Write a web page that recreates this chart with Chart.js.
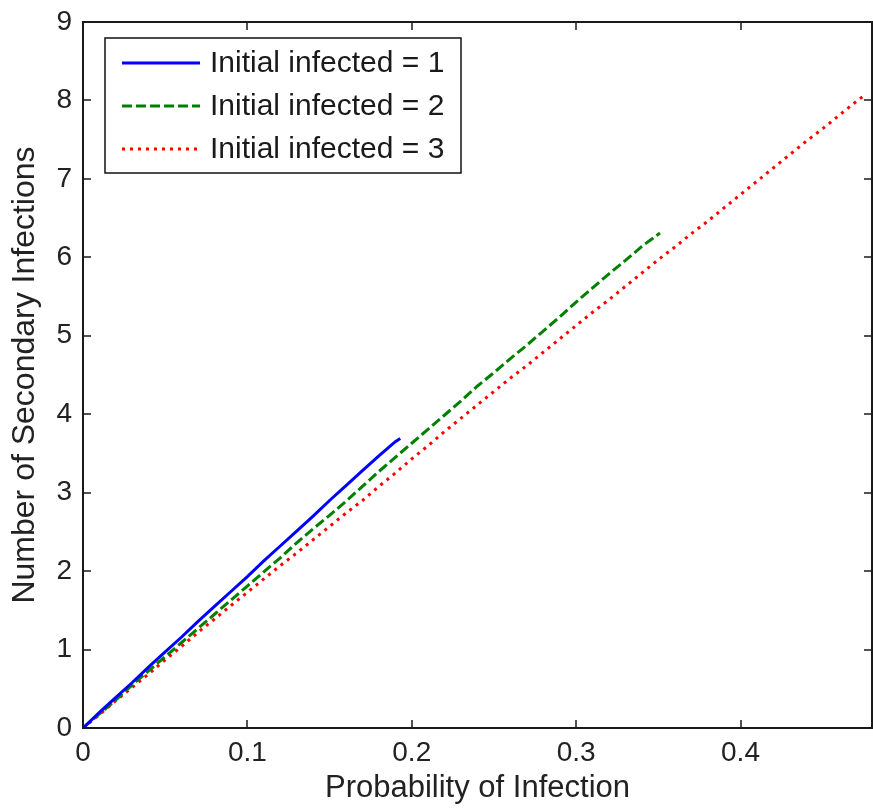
<!DOCTYPE html>
<html>
<head>
<meta charset="utf-8">
<script src="https://cdn.jsdelivr.net/npm/chart.js@4.4.1/dist/chart.umd.min.js"></script>
<style>
  html, body { margin: 0; padding: 0; background: #fff; }
  #wrap { width: 873px; height: 810px; }
</style>
</head>
<body>
<div id="wrap"><canvas id="chart" width="873" height="810"></canvas></div>
<script>
// values: probability of infection vs. number of secondary infections
const xOne = [0, 0.01, 0.02, 0.03, 0.04, 0.05, 0.06, 0.07, 0.08, 0.09, 0.10, 0.11, 0.12, 0.13, 0.14, 0.15, 0.16, 0.17, 0.18, 0.19, 0.193];
const yOne = [0, 0.20, 0.39, 0.58, 0.78, 0.97, 1.16, 1.36, 1.55, 1.74, 1.93, 2.13, 2.32, 2.51, 2.70, 2.90, 3.09, 3.28, 3.47, 3.65, 3.69];

const xTwo = [0, 0.01, 0.02, 0.03, 0.04, 0.05, 0.06, 0.07, 0.08, 0.09, 0.10, 0.11, 0.12, 0.13, 0.14, 0.15, 0.16, 0.17,
              0.18, 0.19, 0.20, 0.21, 0.22, 0.23, 0.24, 0.25, 0.26, 0.27, 0.28, 0.29, 0.30, 0.31, 0.32, 0.33, 0.34, 0.351];
const yTwo = [0, 0.18, 0.36, 0.55, 0.73, 0.91, 1.09, 1.27, 1.45, 1.63, 1.81, 1.99, 2.17, 2.36, 2.54, 2.71, 2.89, 3.08,
              3.27, 3.45, 3.63, 3.81, 3.99, 4.17, 4.36, 4.53, 4.71, 4.88, 5.06, 5.24, 5.43, 5.61, 5.79, 5.96, 6.14, 6.31];

const xThree = [0, 0.01, 0.02, 0.03, 0.04, 0.05, 0.06, 0.07, 0.08, 0.09, 0.10, 0.11, 0.12, 0.13, 0.14, 0.15, 0.16, 0.17,
                0.18, 0.19, 0.20, 0.21, 0.22, 0.23, 0.24, 0.25, 0.26, 0.27, 0.28, 0.29, 0.30, 0.31, 0.32, 0.33, 0.34, 0.35,
                0.36, 0.37, 0.38, 0.39, 0.40, 0.41, 0.42, 0.43, 0.44, 0.45, 0.46, 0.47, 0.475];
const yThree = [0, 0.17, 0.35, 0.52, 0.69, 0.87, 1.04, 1.22, 1.39, 1.56, 1.73, 1.90, 2.07, 2.23, 2.40, 2.57, 2.74, 2.90,
                3.08, 3.25, 3.43, 3.60, 3.78, 3.95, 4.12, 4.29, 4.46, 4.62, 4.79, 4.96, 5.13, 5.30, 5.46, 5.63, 5.80, 5.97,
                6.13, 6.30, 6.46, 6.63, 6.80, 6.97, 7.14, 7.31, 7.48, 7.64, 7.81, 7.98, 8.06];

const seriesLabels = ['Initial infected = 1', 'Initial infected = 2', 'Initial infected = 3'];
const xTicks = [0, 0.1, 0.2, 0.3, 0.4];
const yTicks = [0, 1, 2, 3, 4, 5, 6, 7, 8, 9];

const FONT = "'Liberation Sans', Arial, sans-serif";
const pts = (xs, ys) => xs.map((v, i) => ({ x: v, y: ys[i] }));

// matlab style box: full frame, inward ticks on all four sides, legend in the corner
const matlabFrame = {
  id: 'matlabFrame',
  afterDatasetsDraw(chart) {
    const { ctx, chartArea: a, scales: { x, y } } = chart;
    ctx.save();
    ctx.strokeStyle = '#1a1a1a';
    ctx.lineWidth = 2;
    ctx.strokeRect(a.left, a.top, a.right - a.left, a.bottom - a.top);

    ctx.lineWidth = 1.5;
    ctx.beginPath();
    xTicks.forEach(v => {
      const px = Math.round(x.getPixelForValue(v));
      ctx.moveTo(px, a.bottom); ctx.lineTo(px, a.bottom - 8);
      ctx.moveTo(px, a.top); ctx.lineTo(px, a.top + 8);
    });
    yTicks.forEach(v => {
      const py = Math.round(y.getPixelForValue(v));
      ctx.moveTo(a.left, py); ctx.lineTo(a.left + 8, py);
      ctx.moveTo(a.right, py); ctx.lineTo(a.right - 8, py);
    });
    ctx.stroke();

    // legend box
    const bx = a.left + 22, by = a.top + 16, bw = 356, bh = 135;
    ctx.fillStyle = '#fff';
    ctx.fillRect(bx, by, bw, bh);
    ctx.lineWidth = 1.5;
    ctx.strokeStyle = '#111';
    ctx.strokeRect(bx, by, bw, bh);
    ctx.font = '30px ' + FONT;
    ctx.textBaseline = 'middle';
    ctx.textAlign = 'left';
    chart.data.datasets.forEach((ds, i) => {
      const ry = by + 25 + i * 43;
      ctx.beginPath();
      ctx.strokeStyle = ds.borderColor;
      ctx.lineWidth = ds.borderWidth;
      ctx.setLineDash(ds.borderDash || []);
      ctx.moveTo(bx + 17, ry);
      ctx.lineTo(bx + 95, ry);
      ctx.stroke();
      ctx.setLineDash([]);
      ctx.fillStyle = '#1a1a1a';
      ctx.fillText(ds.label, bx + 105, ry + 1);
    });
    ctx.restore();
  }
};

new Chart(document.getElementById('chart'), {
  type: 'line',
  data: {
    datasets: [
      { label: seriesLabels[0], data: pts(xOne, yOne), borderColor: '#0000ff', borderWidth: 3 },
      { label: seriesLabels[1], data: pts(xTwo, yTwo), borderColor: '#008000', borderWidth: 3, borderDash: [10, 4] },
      { label: seriesLabels[2], data: pts(xThree, yThree), borderColor: '#ff0000', borderWidth: 3, borderDash: [3, 5] }
    ]
  },
  options: {
    responsive: false,
    animation: false,
    devicePixelRatio: 1,
    layout: { padding: { top: 22, right: 1, bottom: 0, left: 0 } },
    elements: { point: { radius: 0 }, line: { tension: 0, fill: false } },
    plugins: { legend: { display: false }, tooltip: { enabled: false } },
    scales: {
      x: {
        type: 'linear',
        min: 0,
        max: 0.48,
        afterBuildTicks: s => { s.ticks = xTicks.map(v => ({ value: v })); },
        afterFit: s => { s.height = 82; s.paddingLeft = 0; s.paddingRight = 0; },
        grid: { display: false, drawTicks: false },
        border: { display: false },
        ticks: { padding: 8, color: '#222', font: { family: FONT, size: 28 }, callback: v => String(v) },
        title: { display: true, text: 'Probability of Infection', color: '#222', font: { family: FONT, size: 31 }, padding: { top: 0, bottom: 3 } }
      },
      y: {
        type: 'linear',
        min: 0,
        max: 9,
        afterBuildTicks: s => { s.ticks = yTicks.map(v => ({ value: v })); },
        afterFit: s => { s.width = 83; s.paddingTop = 0; s.paddingBottom = 0; },
        grid: { display: false, drawTicks: false },
        border: { display: false },
        ticks: { padding: 11, color: '#222', font: { family: FONT, size: 28 }, callback: v => String(v) },
        title: { display: true, text: 'Number of Secondary Infections', color: '#222', font: { family: FONT, size: 32 }, padding: { top: 6, bottom: 0 } }
      }
    }
  },
  plugins: [matlabFrame]
});
</script>
</body>
</html>
